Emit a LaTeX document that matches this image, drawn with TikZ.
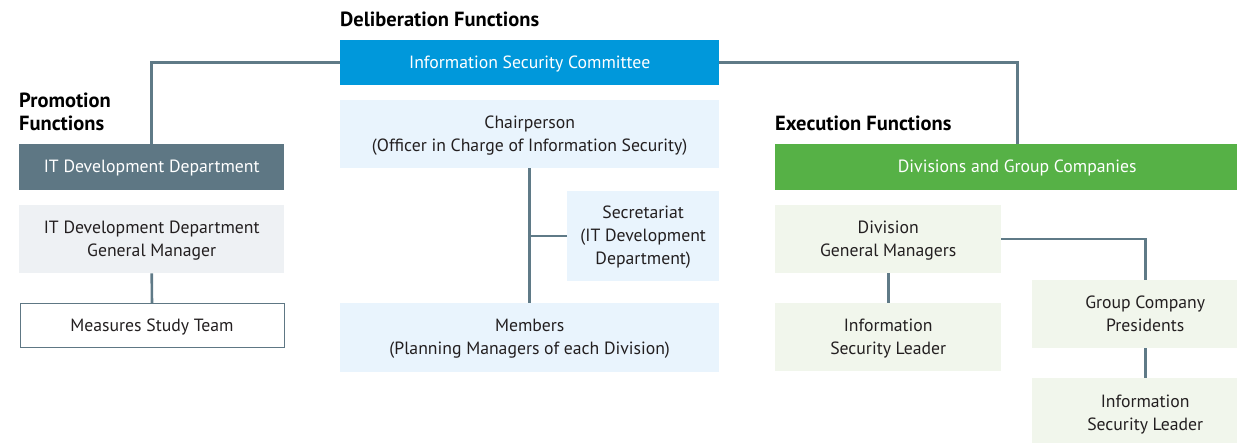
\documentclass[tikz,border=0pt]{standalone}
\usepackage{fontspec}
\setmainfont{PT Sans}
\usetikzlibrary{positioning,calc}
\definecolor{orgBlue}{HTML}{0098DB}
\definecolor{orgSlate}{HTML}{5E7784}
\definecolor{orgLine}{HTML}{5F7A87}
\definecolor{orgGreen}{HTML}{56B146}
\definecolor{orgSky}{HTML}{E9F4FD}
\definecolor{orgMist}{HTML}{EEF1F4}
\definecolor{orgMint}{HTML}{F1F6EC}
\definecolor{orgText}{HTML}{231F20}
\newcommand{\orgfont}{\fontsize{17.7}{23}\selectfont}
\tikzset{
  orgbox/.style={
    rectangle, inner sep=0pt, anchor=north west, align=center,
    font=\orgfont, text=orgText, text depth=1pt
  },
  headbox/.style={orgbox, text=white},
  cmtebox/.style={headbox, fill=orgBlue},
  promobox/.style={headbox, fill=orgSlate},
  execbox/.style={headbox, fill=orgGreen},
  skybox/.style={orgbox, fill=orgSky},
  mistbox/.style={orgbox, fill=orgMist},
  mintbox/.style={orgbox, fill=orgMint},
  teambox/.style={orgbox, fill=white, draw=orgSlate, line width=1pt},
  functitle/.style={font=\fontsize{20.5}{23}\selectfont\bfseries, text=black, anchor=base west, inner sep=0pt, align=left},
  link/.style={draw=orgLine, line width=2.6pt}
}

\begin{document}
\begin{tikzpicture}[x=1pt, y=-1pt]
  \clip (0,0) rectangle (1237,443);
  % headings
  \node[functitle] (delib) at (340,27) {Deliberation Functions};
  \node[functitle] (promo) at (19,131) {Promotion\\Functions};
  \node[functitle] (exec) at (775,131) {Execution Functions};

  % deliberation
  \node[cmtebox, minimum width=379pt, minimum height=45pt] (cmte) at (340,40) {Information Security Committee};
  \node[skybox, minimum width=379pt, minimum height=68pt] (chair) at (340,100) {Chairperson\\(Officer in Charge of Information Security)};
  \node[skybox, minimum width=152pt, minimum height=90pt] (secr) at (567,191) {Secretariat\\(IT Development\\Department)};
  \node[skybox, minimum width=379pt, minimum height=69pt] (members) at (340,303) {Members\\(Planning Managers of each Division)};

  % promotion
  \node[promobox, minimum width=265pt, minimum height=46pt] (itdept) at (19,144) {IT Development Department};
  \node[mistbox, minimum width=265pt, minimum height=68pt] (gm) at (19,205) {IT Development Department\\General Manager};
  \node[teambox, minimum width=264pt, minimum height=44pt] (team) at (19.5,303.5) {Measures Study Team};

  % execution
  \node[execbox, minimum width=484pt, minimum height=46pt] (divs) at (775,144) {Divisions and Group Companies};
  \node[mintbox, minimum width=226pt, minimum height=68pt] (dgm) at (775,205) {Division\\General Managers};
  \node[mintbox, minimum width=226pt, minimum height=68pt] (isla) at (775,303) {Information\\Security Leader};
  \node[mintbox, minimum width=226pt, minimum height=68pt] (gcp) at (1032,280) {Group Company\\Presidents};
  \node[mintbox, minimum width=226pt, minimum height=70pt] (islb) at (1032,378) {Information\\Security Leader};

  % connectors
  \draw[link] (itdept.north) |- (cmte.west);
  \draw[link] (cmte.east) -| (divs.north);
  \draw[link] (chair.south) -- (members.north);
  \draw[link] (secr.west) -- (secr.west -| chair.south);
  \draw[link] (gm.south) -- (team.north);
  \draw[link] (dgm.east) -| (gcp.north);
  \draw[link] (dgm.south) -- (isla.north);
  \draw[link] (gcp.south) -- (islb.north);
\end{tikzpicture}
\end{document}
